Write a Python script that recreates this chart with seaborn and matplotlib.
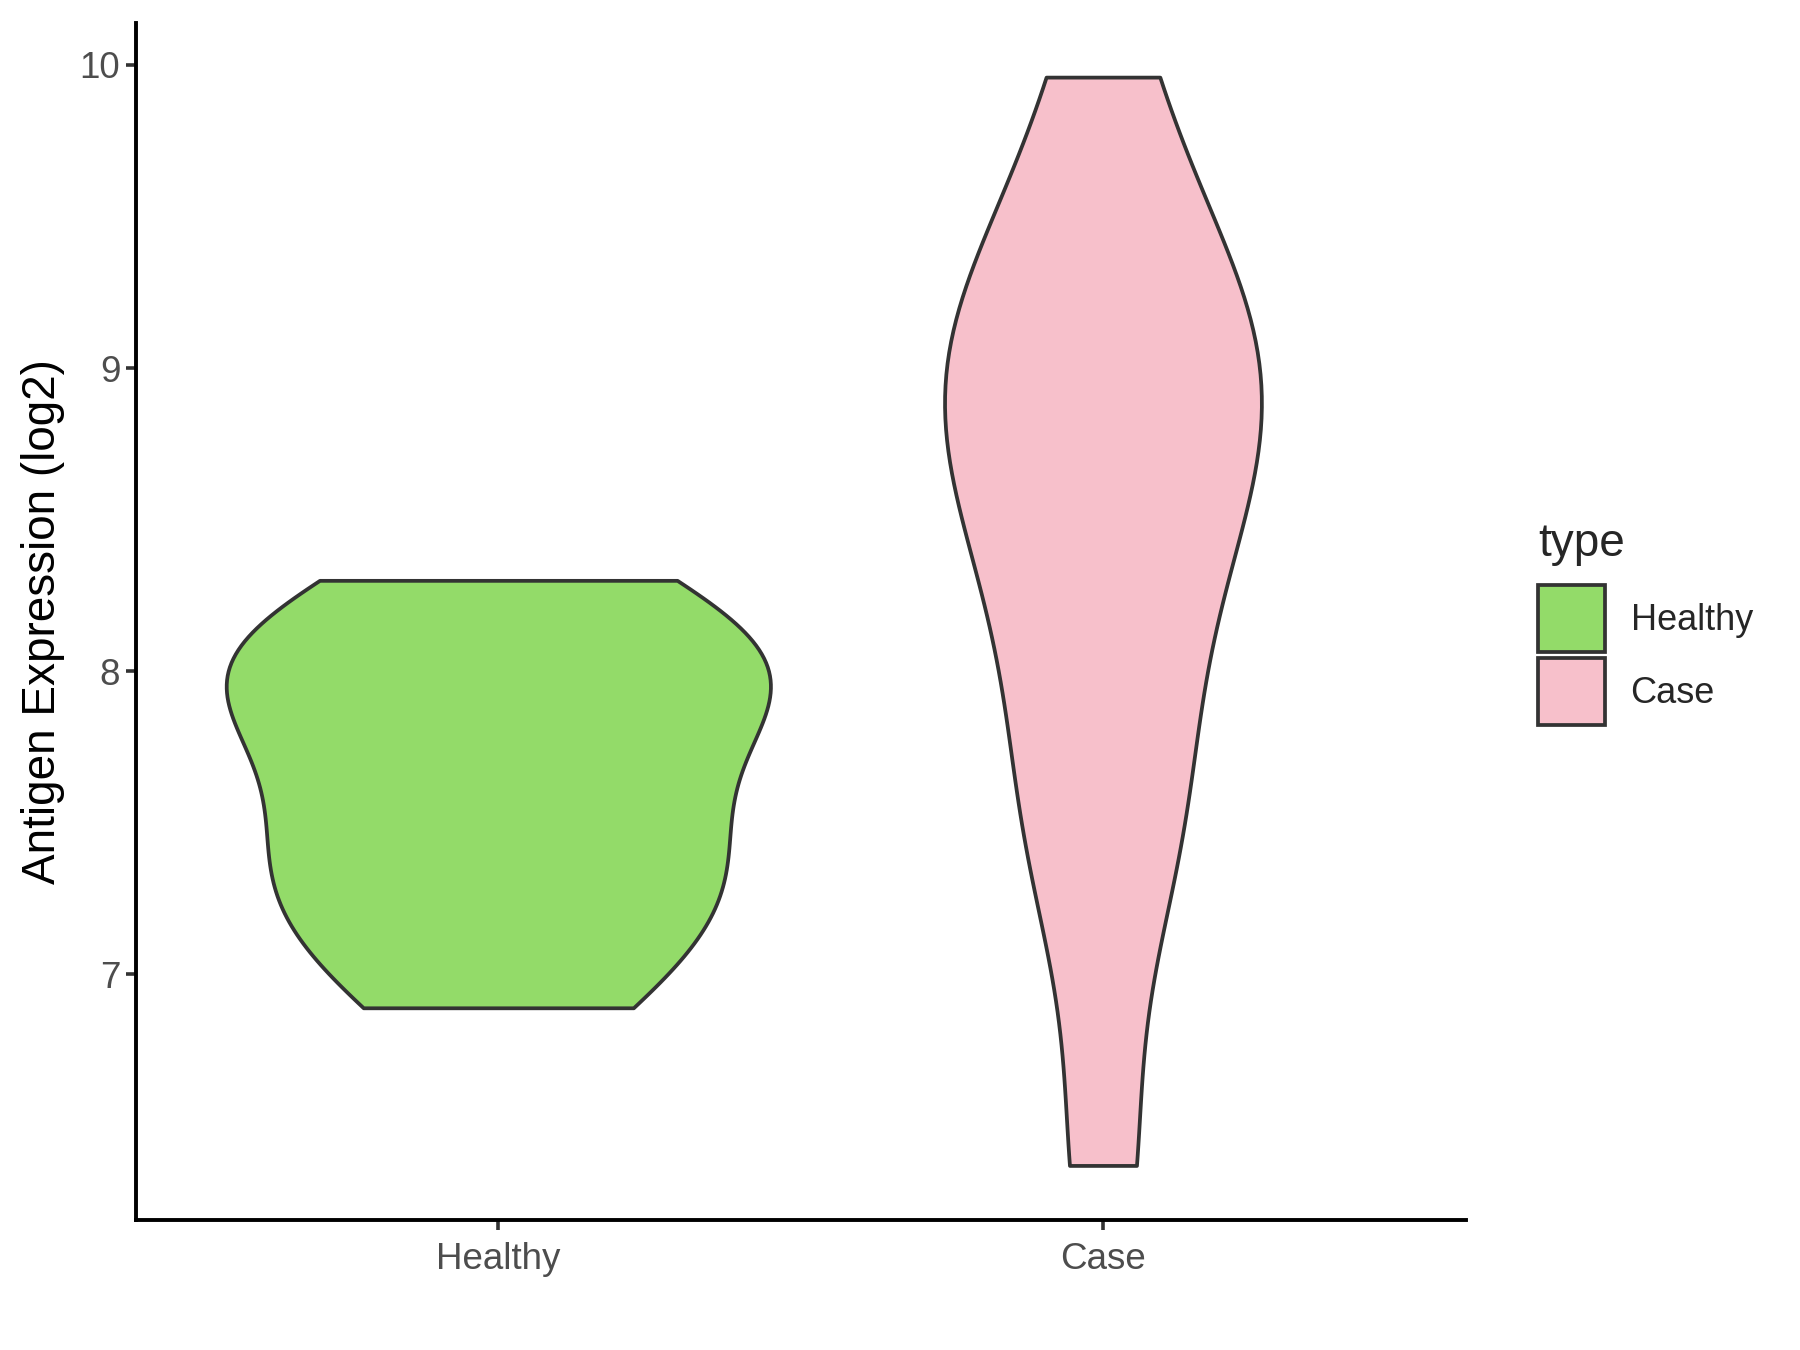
import numpy as np
import pandas as pd
import seaborn as sns
import matplotlib.pyplot as plt
from matplotlib.patches import Patch

groups = ["Healthy", "Case"]
healthy_values = [6.89, 7.10, 7.28, 7.40, 7.55, 7.86, 7.95, 8.02, 8.10, 8.30]
case_values = [6.37, 7.28, 7.55, 7.95, 8.30, 8.55, 8.75, 8.90, 9.05, 9.25, 9.40, 9.96]
group_colors = ["#93DB69", "#F7C0CB"]
y_ticks = [7, 8, 9, 10]

# kde bandwidth (data units) and violin width per group
bandwidths = {"Healthy": 0.28, "Case": 0.45}
widths = {"Healthy": 0.9, "Case": 0.524}

df = pd.DataFrame({
    "type": ["Healthy"] * len(healthy_values) + ["Case"] * len(case_values),
    "value": healthy_values + case_values,
})
palette = dict(zip(groups, group_colors))

sns.set_style("white")
plt.rcParams["font.family"] = ["Liberation Sans", "DejaVu Sans"]

fig = plt.figure(figsize=(18, 13.5), dpi=100)
ax = fig.add_axes([0.0753, 0.0963, 0.739, 0.887])

for g in groups:
    sub = df[df["type"] == g]
    sns.violinplot(data=sub, x="type", y="value", hue="type", order=groups, hue_order=groups,
                   palette=palette, saturation=1, width=widths[g], density_norm="width",
                   cut=0, inner=None, bw_method=bandwidths[g] / sub["value"].std(),
                   linewidth=2.7, linecolor="#333333", legend=False, ax=ax)

ax.set_xlim(-0.6, 1.6)
ax.set_ylim(6.19, 10.14)
ax.set_yticks(y_ticks)
ax.set_yticklabels([str(t) for t in y_ticks])
ax.set_xlabel("")
ax.set_ylabel("Antigen Expression (log2)", fontsize=33, color="black")
ax.yaxis.set_label_coords(-0.053, 0.5)

for side in ["top", "right"]:
    ax.spines[side].set_visible(False)
for side in ["left", "bottom"]:
    ax.spines[side].set_color("black")
    ax.spines[side].set_linewidth(2.8)

ax.tick_params(axis="both", left=True, bottom=True, length=7, width=2.6, color="#333333",
               labelsize=26.5, labelcolor="#4D4D4D")
ax.tick_params(axis="y", pad=4)
ax.tick_params(axis="x", pad=8.5)

handles = [Patch(facecolor=palette[g], edgecolor="#333333", linewidth=2.7,
                 joinstyle="round", label=g) for g in groups]
leg = ax.legend(handles=handles, title="type", loc="upper left", bbox_to_anchor=(0.8445, 0.6267),
                bbox_transform=fig.transFigure, frameon=False, fontsize=26, title_fontsize=33,
                handlelength=1.86, handleheight=2.48, handletextpad=0.7, labelspacing=0.17,
                borderpad=0, alignment="left")
leg._legend_box.sep = 13.7

fig.savefig("out.png", dpi=100)
